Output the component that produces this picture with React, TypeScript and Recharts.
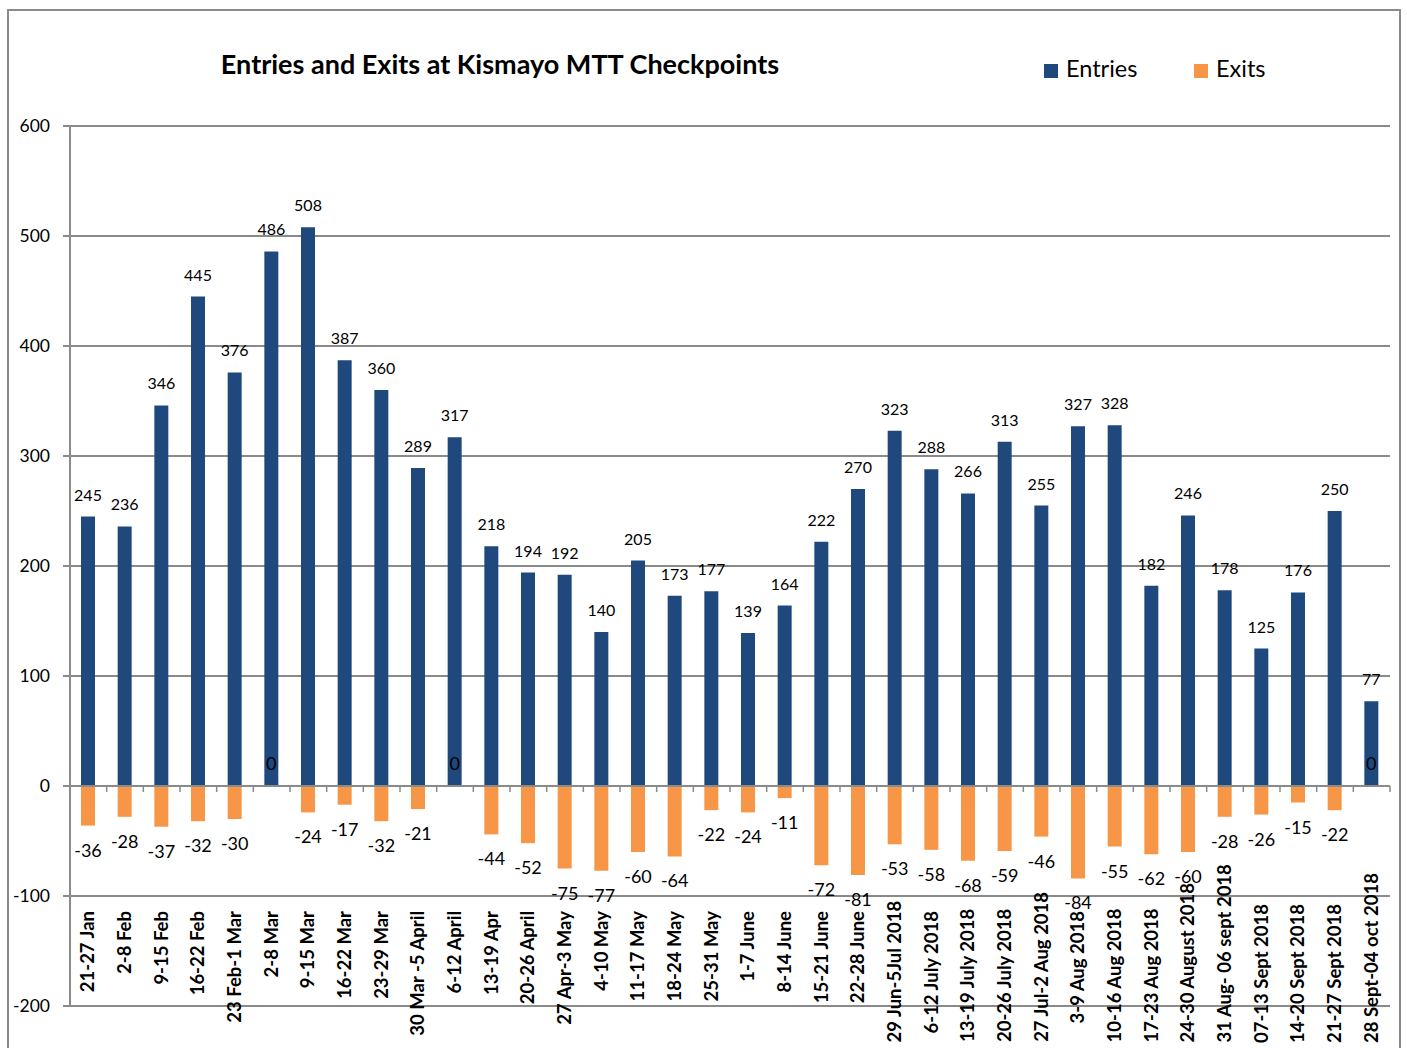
import {
  Bar,
  BarChart,
  CartesianGrid,
  LabelList,
  ReferenceLine,
  XAxis,
  YAxis,
} from "recharts";

const weeks = [
  "21-27 Jan", "2-8 Feb", "9-15 Feb", "16-22 Feb", "23 Feb-1 Mar", "2-8 Mar",
  "9-15 Mar", "16-22 Mar", "23-29 Mar", "30 Mar -5 April", "6-12 April", "13-19 Apr",
  "20-26 April", "27 Apr-3 May", "4-10 May", "11-17 May", "18-24 May", "25-31 May",
  "1-7 June", "8-14 June", "15-21 June", "22-28 June", "29 Jun-5Jul 2018", "6-12 July 2018",
  "13-19 July 2018", "20-26 July 2018", "27 Jul-2 Aug 2018", "3-9 Aug 2018", "10-16 Aug 2018", "17-23 Aug 2018",
  "24-30 August 2018", "31 Aug- 06 sept 2018", "07-13 Sept 2018", "14-20 Sept 2018", "21-27 Sept 2018", "28 Sept-04 oct 2018",
];

const entries = [
  245, 236, 346, 445, 376, 486, 508, 387, 360, 289, 317, 218,
  194, 192, 140, 205, 173, 177, 139, 164, 222, 270, 323, 288,
  266, 313, 255, 327, 328, 182, 246, 178, 125, 176, 250, 77,
];

const exits = [
  -36, -28, -37, -32, -30, 0, -24, -17, -32, -21, 0, -44,
  -52, -75, -77, -60, -64, -22, -24, -11, -72, -81, -53, -58,
  -68, -59, -46, -84, -55, -62, -60, -28, -26, -15, -22, 0,
];

const yTicks = [-200, -100, 0, 100, 200, 300, 400, 500, 600];

const BLUE = "#1F497D";
const ORANGE = "#F79646";
const GRID = "#8a8a8a";
const FONT = "Lato, 'Open Sans', sans-serif";
const TICK_FONT = `bold 18.5px Lato`;

const data = weeks.map((week, i) => ({ week, entries: entries[i], exits: exits[i] }));

let measureCtx: CanvasRenderingContext2D | null = null;
function textWidth(s: string) {
  if (!measureCtx) measureCtx = document.createElement("canvas").getContext("2d");
  if (!measureCtx) return s.length * 9;
  measureCtx.font = TICK_FONT;
  return measureCtx.measureText(s).width;
}

// labels hang from just below -100; long ones are pushed up to fit the bottom
function WeekTick({ x, y, payload }: any) {
  const w = textWidth(payload.value);
  const top = Math.min(y - 95, y + 37 - w);
  return (
    <text
      transform={`translate(${x + 6},${top}) rotate(-90)`}
      textAnchor="end"
      fontFamily={FONT}
      fontWeight="bold"
      fontSize={18.5}
      fill="#000"
    >
      {payload.value}
    </text>
  );
}

function EntryLabel({ x, y, width, height, value }: any) {
  const top = Math.min(y, y + height);
  return (
    <text x={x + width / 2} y={top - 16} textAnchor="middle" fontFamily={FONT} fontSize={16} fill="#000">
      {value}
    </text>
  );
}

// a zero exit has no bar, so its label sits on the entries bar just above the axis
function ZeroExitLabel({ x, y, width, height, value }: any) {
  if (value !== 0) return null;
  const base = Math.max(y, y + height);
  return (
    <text x={x + width / 2} y={base - 16} textAnchor="middle" fontFamily={FONT} fontSize={18} fill="#000">
      0
    </text>
  );
}

function ExitLabel({ x, y, width, height, value }: any) {
  if (value === 0) return null;
  const end = Math.max(y, y + height);
  return (
    <text x={x + width / 2} y={end + 31} textAnchor="middle" fontFamily={FONT} fontSize={18} fill="#000">
      {value}
    </text>
  );
}

// zero line with small tick marks between the weeks
function ZeroLine(props: any) {
  const { x1, x2, y1 } = props;
  const step = (x2 - x1) / weeks.length;
  return (
    <g>
      <line x1={x1} x2={x2} y1={y1} y2={y1} stroke={GRID} strokeWidth={2} />
      {weeks.map((w, i) => (
        <line
          key={w}
          x1={x1 + (i + 1) * step}
          x2={x1 + (i + 1) * step}
          y1={y1}
          y2={y1 + 6}
          stroke={GRID}
          strokeWidth={1.5}
        />
      ))}
    </g>
  );
}

export default function App() {
  return (
    <div style={{ position: "absolute", left: 0, top: 0, width: 1407, height: 1048, overflow: "hidden", background: "#fff", fontFamily: FONT }}>
      <div
        style={{
          position: "absolute",
          left: 7,
          top: 9,
          width: 1394,
          height: 1100,
          border: `2px solid ${GRID}`,
          boxSizing: "border-box",
        }}
      />
      <div
        style={{
          position: "absolute",
          left: 150,
          top: 50,
          width: 700,
          textAlign: "center",
          fontSize: 27,
          lineHeight: "27px",
          fontWeight: "bold",
          color: "#000",
        }}
      >
        Entries and Exits at Kismayo MTT Checkpoints
      </div>
      <div style={{ position: "absolute", left: 1044, top: 64, width: 14, height: 14, background: BLUE }} />
      <div style={{ position: "absolute", left: 1066, top: 57, fontSize: 23.5, lineHeight: "23.5px", color: "#000" }}>Entries</div>
      <div style={{ position: "absolute", left: 1194, top: 64, width: 14, height: 14, background: ORANGE }} />
      <div style={{ position: "absolute", left: 1216, top: 57, fontSize: 23.5, lineHeight: "23.5px", color: "#000" }}>Exits</div>

      <div style={{ position: "absolute", left: 0, top: 0 }}>
        <BarChart
          width={1407}
          height={1048}
          data={data}
          stackOffset="sign"
          barSize={14}
          margin={{ top: 126, right: 17, bottom: 0, left: 10 }}
        >
          <CartesianGrid horizontal vertical={false} stroke={GRID} strokeWidth={2} />
          <XAxis
            dataKey="week"
            height={42}
            axisLine={false}
            tickLine={false}
            tickSize={0}
            tickMargin={0}
            interval={0}
            tick={<WeekTick />}
          />
          <YAxis
            width={60}
            domain={[-200, 600]}
            ticks={yTicks}
            interval={0}
            axisLine={{ stroke: GRID, strokeWidth: 2 }}
            tickLine={{ stroke: GRID, strokeWidth: 2 }}
            tickSize={7}
            tickMargin={13}
            tick={{ fill: "#000", fontSize: 17.5, fontFamily: FONT, dy: 0 }}
          />
          <Bar dataKey="entries" stackId="s" fill={BLUE} isAnimationActive={false}>
            <LabelList dataKey="entries" content={<EntryLabel />} />
            <LabelList dataKey="exits" content={<ZeroExitLabel />} />
          </Bar>
          <Bar dataKey="exits" stackId="s" fill={ORANGE} isAnimationActive={false}>
            <LabelList dataKey="exits" content={<ExitLabel />} />
          </Bar>
          <ReferenceLine y={0} shape={<ZeroLine />} />
        </BarChart>
      </div>
    </div>
  );
}
